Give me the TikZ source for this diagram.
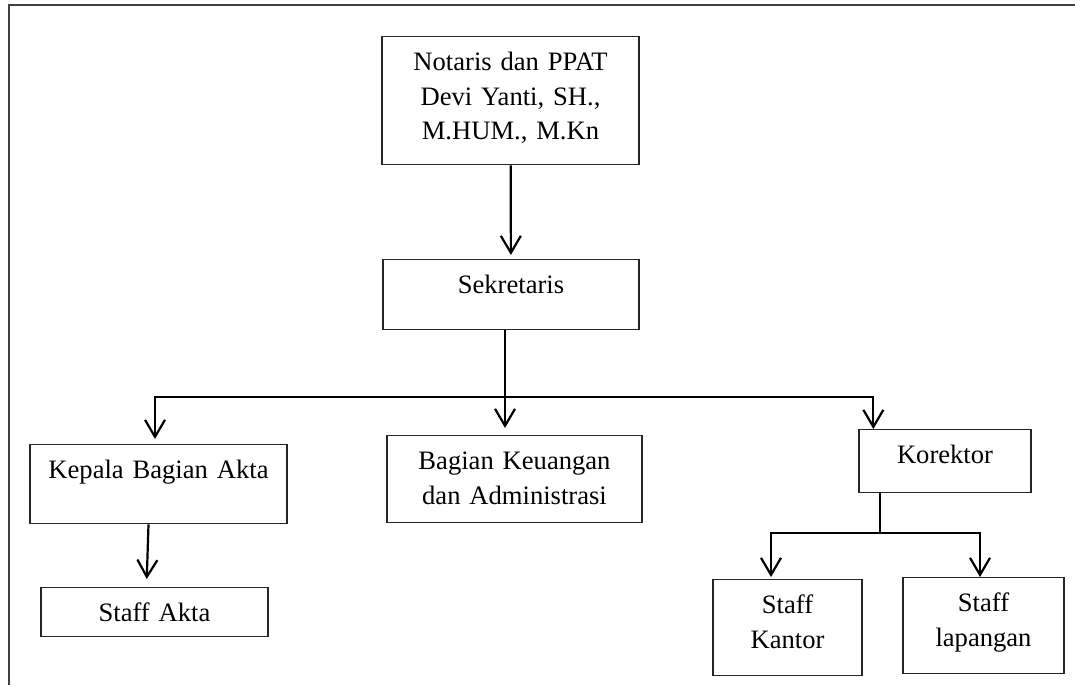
\documentclass[tikz,border=0pt]{standalone}
\usepackage{fontspec}
\setmainfont{Liberation Serif}
\usetikzlibrary{arrows.meta}
\begin{document}
\begin{tikzpicture}[x=1pt, y=-1pt, font=\fontsize{26.6}{34.5}\selectfont,
    kotak/.style={draw=black!85, line width=1.3pt, inner sep=0pt, anchor=north, text width=#1, align=center, text height=34pt},
    garis/.style={line width=2.2pt},
    panah/.style={garis, -{Straight Barb[length=17pt,width=20pt]}}]
    \useasboundingbox (0,0) rectangle (1075,685);
    \draw[black!75, line width=1.5pt] (1075,5) -- (9,5) -- (9,685);
    \node[kotak=257pt, text depth=94pt] (notaris) at (510.5,36) {Notaris dan PPAT\\ Devi Yanti, SH.,\\ M.HUM., M.Kn};
    \node[kotak=256pt, text depth=36pt] (sek) at (511,259) {Sekretaris};
    \node[kotak=257pt, text depth=45pt] (kepala) at (158.5,444) {Kepala Bagian Akta};
    \node[kotak=255pt, text depth=53pt] (bagian) at (514.5,435) {Bagian Keuangan\\ dan Administrasi};
    \node[kotak=172pt, text depth=29pt] (korektor) at (945,429) {Korektor};
    \node[kotak=227pt, text depth=15pt] (staffakta) at (154.5,587) {Staff Akta};
    \node[kotak=149pt, text depth=62pt] (kantor) at (787.5,579) {Staff\\ Kantor};
    \node[kotak=161pt, text depth=62pt] (lapangan) at (983.5,577) {Staff\\ lapangan};
    \coordinate (cabang) at (505,397);
    \coordinate (cabang2) at (880,533);
    \draw[panah, shorten >=4pt] (notaris) -- (sek);
    \draw[garis] (sek.south -| cabang) -- (cabang);
    \draw[panah, shorten >=5pt] (cabang) -| ([xshift=-3.5pt]kepala.north);
    \draw[panah, shorten >=7pt] (cabang) -- (cabang |- bagian.north);
    \draw[panah] (cabang) -| ([xshift=15pt]korektor.north west);
    \draw[panah, shorten >=8pt] ([xshift=-10pt]kepala.south) -- ([xshift=-8pt]staffakta.north);
    \draw[garis] (cabang2 |- korektor.south) -- (cabang2);
    \draw[panah, shorten >=2pt] (cabang2) -| ([xshift=-16.5pt]kantor.north);
    \draw[panah] (cabang2) -| ([xshift=-3.5pt]lapangan.north);
\end{tikzpicture}
\end{document}
